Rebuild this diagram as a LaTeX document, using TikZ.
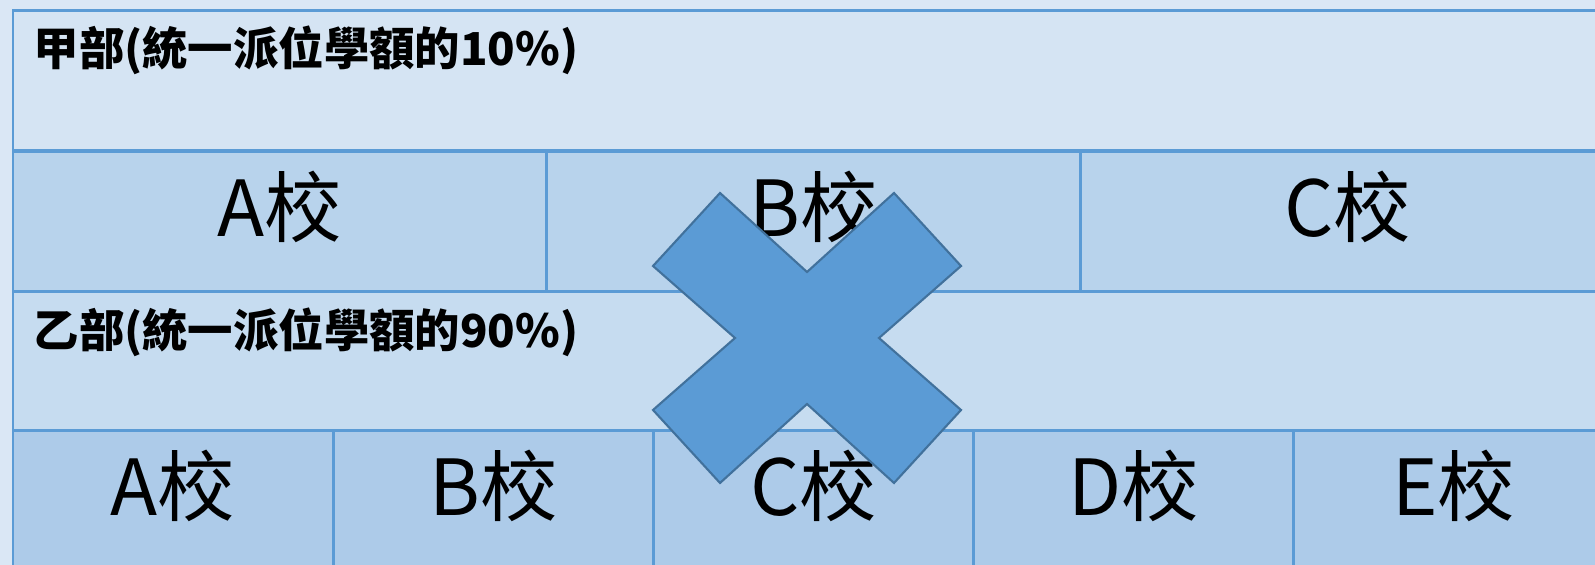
\documentclass[tikz,border=0pt]{standalone}
\usepackage{fontspec}
\newfontfamily\cjk{Noto Sans CJK TC}
\usetikzlibrary{positioning}

\definecolor{pagebg}{HTML}{DAE7F5}
\definecolor{boxline}{HTML}{5B9BD5}
\definecolor{bandone}{HTML}{D5E4F3}
\definecolor{rowtop}{HTML}{B8D3EC}
\definecolor{bandtwo}{HTML}{C6DCF0}
\definecolor{rowbottom}{HTML}{ADCBE9}
\definecolor{crossblue}{HTML}{5B9BD5}
\definecolor{crossedge}{HTML}{41719C}

\begin{document}
\begin{tikzpicture}[x=0.01cm, y=-0.01cm,
    cell/.style={draw=boxline, line width=0.85pt, inner sep=0pt, outer sep=0pt, anchor=north west},
    bandtitle/.style={font=\cjk\bfseries\fontsize{12.9}{15}\selectfont, anchor=west, inner sep=0pt},
    schoolname/.style={font=\cjk\fontsize{22}{26}\selectfont, inner sep=0pt, yshift=4.3pt}]
        \useasboundingbox (0,0) rectangle (1595,565);
        \clip (0,0) rectangle (1595,565);
        \fill[pagebg] (0,0) rectangle (1595,565);

        % band for part A
        \node[cell, fill=bandone, minimum width=16.2cm, minimum height=1.39cm] (jiaband) at (13,11) {};
        \node[bandtitle] (jiatitle) at (33,50) {甲部(統一派位學額的10\%)};

        % three schools
        \node[cell, fill=rowtop, minimum width=5.335cm, minimum height=1.4cm] (topA) at (13,152) {};
        \node[cell, fill=rowtop, minimum width=5.335cm, minimum height=1.4cm, right=0pt of topA] (topB) {};
        \node[cell, fill=rowtop, minimum width=5.335cm, minimum height=1.4cm, right=0pt of topB] (topC) {};
        \node[schoolname] (topAname) at (topA) {A校};
        \node[schoolname] (topBname) at (topB) {B校};
        \node[schoolname] (topCname) at (topC) {C校};

        % band for part B
        \node[cell, fill=bandtwo, minimum width=16.2cm, minimum height=1.39cm] (yiband) at (13,292) {};
        \node[bandtitle] (yititle) at (33,332) {乙部(統一派位學額的90\%)};

        % five schools
        \node[cell, fill=rowbottom, minimum width=3.2cm, minimum height=1.4cm] (lowA) at (13,431) {};
        \node[cell, fill=rowbottom, minimum width=3.2cm, minimum height=1.4cm, right=0pt of lowA] (lowB) {};
        \node[cell, fill=rowbottom, minimum width=3.2cm, minimum height=1.4cm, right=0pt of lowB] (lowC) {};
        \node[cell, fill=rowbottom, minimum width=3.2cm, minimum height=1.4cm, right=0pt of lowC] (lowD) {};
        \node[cell, fill=rowbottom, minimum width=3.2cm, minimum height=1.4cm, right=0pt of lowD] (lowE) {};
        \node[schoolname] (lowAname) at (lowA) {A校};
        \node[schoolname] (lowBname) at (lowB) {B校};
        \node[schoolname] (lowCname) at (lowC) {C校};
        \node[schoolname] (lowDname) at (lowD) {D校};
        \node[schoolname] (lowEname) at (lowE) {E校};

        % the cross
        \filldraw[fill=crossblue, draw=crossedge, line width=0.6pt, shift={(807,338)}]
            (-87,-145) -- (0,-66) -- (87,-145) -- (154,-72) -- (72,0) -- (154,72)
            -- (87,145) -- (0,66) -- (-87,145) -- (-154,72) -- (-72,0) -- (-154,-72) -- cycle;
    \end{tikzpicture}
\end{document}
